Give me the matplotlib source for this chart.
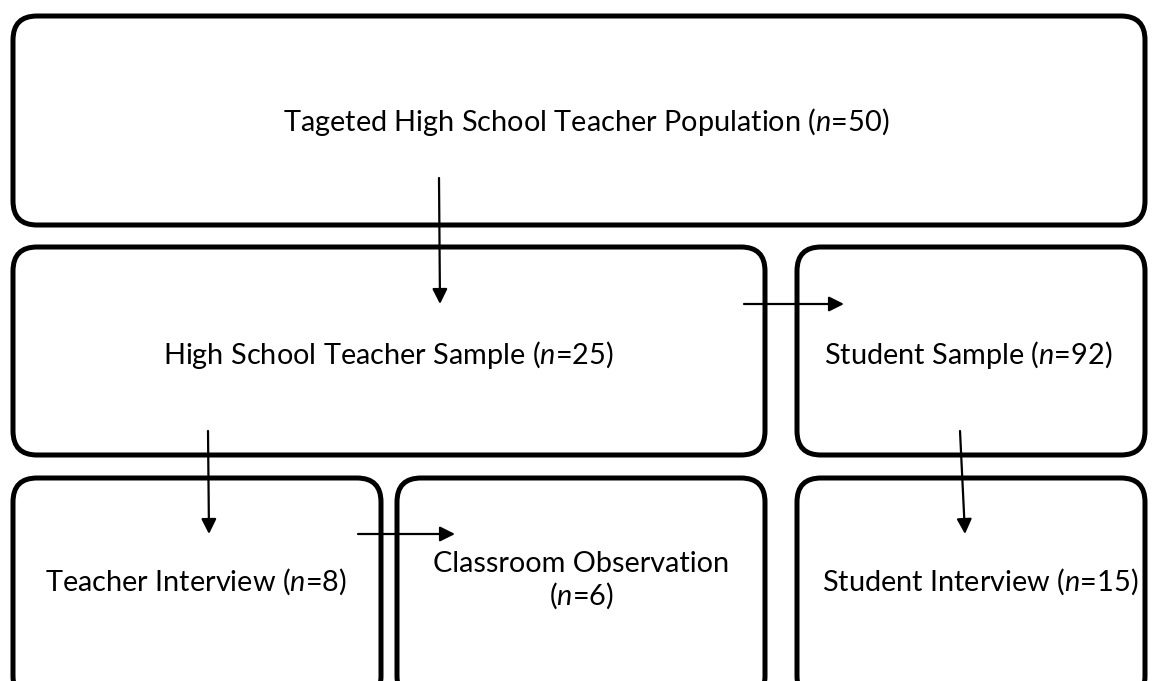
import matplotlib.pyplot as plt
from matplotlib.patches import FancyBboxPatch

plt.rcParams['font.family'] = ['Lato', 'DejaVu Sans']
plt.rcParams['mathtext.fontset'] = 'custom'
plt.rcParams['mathtext.rm'] = 'Lato'
plt.rcParams['mathtext.it'] = 'Lato:italic'

# box labels and their n values
labels = ['Tageted High School Teacher Population', 'High School Teacher Sample',
          'Student Sample', 'Teacher Interview', 'Classroom Observation\n',
          'Student Interview']
n_values = [50, 25, 92, 8, 6, 15]

# layout (pixels): left, top, right, bottom
boxes = [(13, 16, 1145, 225),
         (13, 247, 765, 455),
         (797, 247, 1145, 455),
         (13, 478, 381, 700),
         (397, 478, 765, 700),
         (797, 478, 1145, 700)]
text_pos = [(586, 122), (388, 355), (968, 355), (196, 582), (581, 581), (980, 582)]

# arrows: start, end
arrows = [((439, 178), (440, 304)),
          ((744, 304), (844, 304)),
          ((208, 431), (209, 534)),
          ((358, 534), (455, 534)),
          ((960, 431), (965, 534))]

fig = plt.figure(figsize=(11.54, 6.81), dpi=100)
ax = fig.add_axes([0, 0, 1, 1])
ax.set_xlim(0, 1154)
ax.set_ylim(681, 0)
ax.axis('off')

for (l, t, r, b) in boxes:
    p = FancyBboxPatch((l, t), r - l, b - t,
                       boxstyle='round,pad=0,rounding_size=24',
                       fc='white', ec='black', lw=3.6)
    ax.add_patch(p)

for lab, n, (x, y) in zip(labels, n_values, text_pos):
    if lab.endswith('\n'):
        s = lab + '(' + r'$\mathit{n}$' + '=%d)' % n
    else:
        s = lab + ' (' + r'$\mathit{n}$' + '=%d)' % n
    ax.text(x, y, s, ha='center', va='center', fontsize=20.8,
            linespacing=1.15, color='black')

for (s, e) in arrows:
    ax.annotate('', xy=e, xytext=s,
                arrowprops=dict(arrowstyle='-|>,head_length=0.9,head_width=0.45',
                                lw=1.6, color='black', shrinkA=0, shrinkB=0))

fig.savefig('out.png', dpi=100)
